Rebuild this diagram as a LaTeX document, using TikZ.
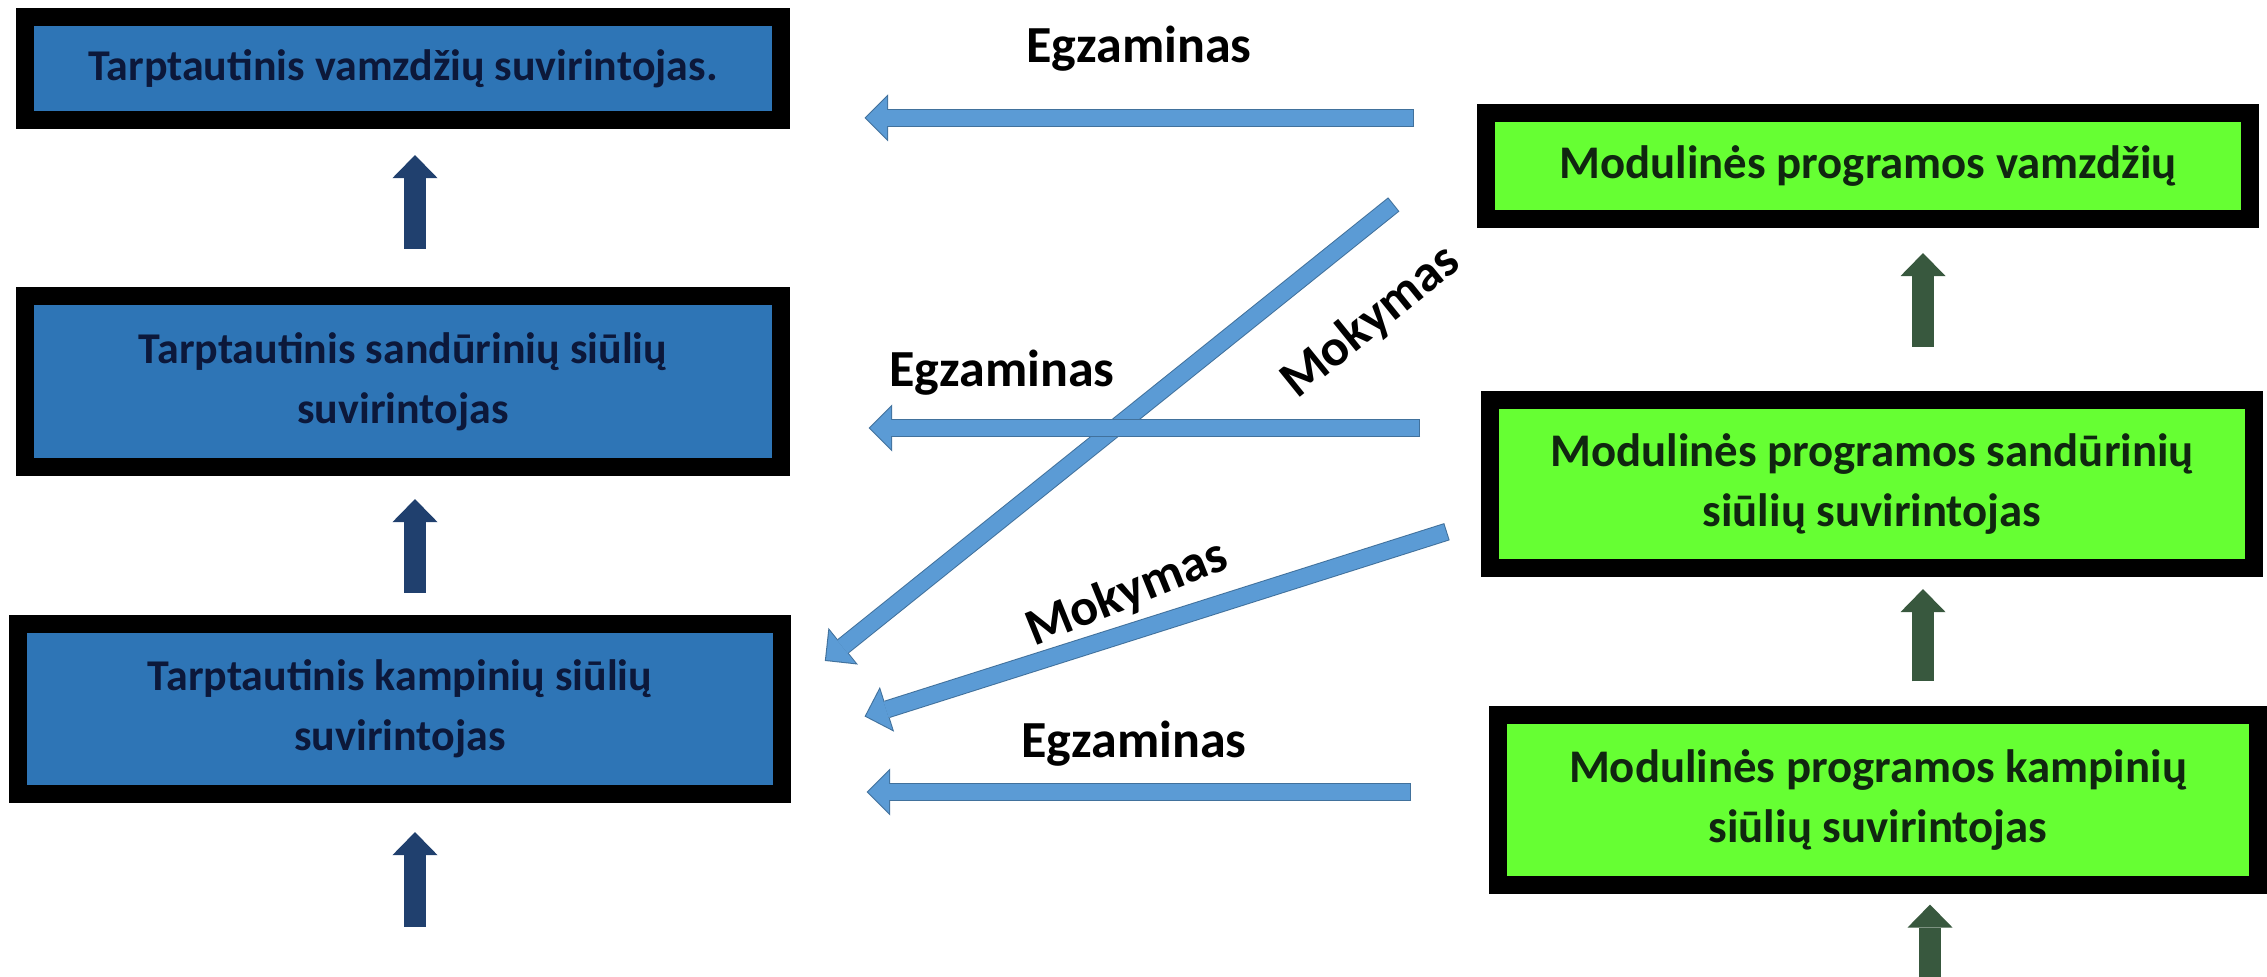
\documentclass[tikz,border=0pt]{standalone}
\usepackage{fontspec}
\setmainfont{Carlito}
\usetikzlibrary{arrows.meta}

\definecolor{boxblue}{RGB}{46,117,182}
\definecolor{navytext}{RGB}{12,24,58}
\definecolor{boxgreen}{RGB}{102,255,51}
\definecolor{greentext}{RGB}{16,38,16}
\definecolor{upblue}{RGB}{32,64,110}
\definecolor{upgreen}{RGB}{56,88,62}
\definecolor{flowfill}{RGB}{91,155,213}
\definecolor{flowedge}{RGB}{65,113,156}

\begin{document}
\begin{tikzpicture}[
    x=0.01cm, y=-0.01cm,
    stage/.style={rectangle, draw=black, line width=1.8mm, inner sep=0pt, align=center, font=\fontsize{12.5}{17}\selectfont\bfseries},
    intl/.style={stage, fill=boxblue, text=navytext},
    modul/.style={stage, fill=boxgreen, text=greentext, font=\fontsize{13.3}{17.3}\selectfont\bfseries},
    uparrow/.style={line width=2.2mm, -{Triangle[width=4.5mm, length=2.3mm, line width=0pt]}},
    flow/.style={draw=flowfill, line width=1.6mm, -{Triangle[width=4.2mm, length=2.1mm, line width=0pt]},
        preaction={draw=flowedge, line width=1.8mm, shorten >=-0.15mm, shorten <=-0.1mm, -{Triangle[width=4.7mm, length=2.35mm, line width=0pt]}}},
    linktext/.style={font=\fontsize{14.8}{17}\selectfont\bfseries}
]
\useasboundingbox (0,0) rectangle (2267,977);

% Tarptautiniai lygiai (kaire)
\node[intl, minimum width=7.55cm, minimum height=1.03cm] (pipe) at (403,68.5) {Tarptautinis vamzdžių suvirintojas.};
\node[intl, minimum width=7.55cm, minimum height=1.71cm] (butt) at (403,381.5) {Tarptautinis sandūrinių siūlių\\suvirintojas};
\node[intl, minimum width=7.63cm, minimum height=1.70cm] (fillet) at (400,709) {Tarptautinis kampinių siūlių\\suvirintojas};

% Modulines programos (desine)
\node[modul, minimum width=7.64cm, minimum height=1.06cm] (mpipe) at (1868,166) {Modulinės programos vamzdžių};
\node[modul, minimum width=7.63cm, minimum height=1.68cm] (mbutt) at (1872,484) {Modulinės programos sandūrinių\\siūlių suvirintojas};
\node[modul, minimum width=7.59cm, minimum height=1.69cm] (mfillet) at (1878,800) {Modulinės programos kampinių\\siūlių suvirintojas};

% Rodykles aukstyn
\coordinate (bx) at (415,0);
\coordinate (gx) at (1923,0);
\coordinate (bstart) at (415,927);
\coordinate (gstart) at (1930,977);

\draw[uparrow, upblue, shorten <=3.8mm, shorten >=2.6mm] (butt.north -| bx) -- (pipe.south -| bx);
\draw[uparrow, upblue, shorten <=2.2mm, shorten >=2.3mm] (fillet.north -| bx) -- (butt.south -| bx);
\draw[uparrow, upblue, shorten >=2.9mm] (bstart) -- (fillet.south -| bstart);

\draw[uparrow, upgreen, shorten <=4.4mm, shorten >=2.5mm] (mbutt.north -| gx) -- (mpipe.south -| gx);
\draw[uparrow, upgreen, shorten <=2.5mm, shorten >=1.2mm] (mfillet.north -| gx) -- (mbutt.south -| gx);
\draw[uparrow, upgreen, shorten >=1.1mm] (gstart) -- (mfillet.south -| gstart);

% Egzaminas ir mokymas
\coordinate (e1a) at (1413,118);
\coordinate (e1b) at (866,118);
\coordinate (e2a) at (1419,428);
\coordinate (e2b) at (870,428);
\coordinate (e3a) at (1410,792);
\coordinate (e3b) at (868,792);
\coordinate (m1a) at (1393,205);
\coordinate (m1b) at (826,660);
\coordinate (m2a) at (1446,532);
\coordinate (m2b) at (866,716);

\draw[flow] (m1a) -- (m1b);
\draw[flow] (m2a) -- (m2b);
\draw[flow] (e1a) -- (e1b);
\draw[flow] (e2a) -- (e2b);
\draw[flow] (e3a) -- (e3b);

\node[linktext] (egz1) at (1139,49) {Egzaminas};
\node[linktext] (egz2) at (1002,373) {Egzaminas};
\node[linktext] (egz3) at (1134,744) {Egzaminas};
\node[linktext, rotate=39] (mok1) at (1371,322) {Mokymas};
\node[linktext, rotate=22] (mok2) at (1127,594) {Mokymas};

\end{tikzpicture}
\end{document}
